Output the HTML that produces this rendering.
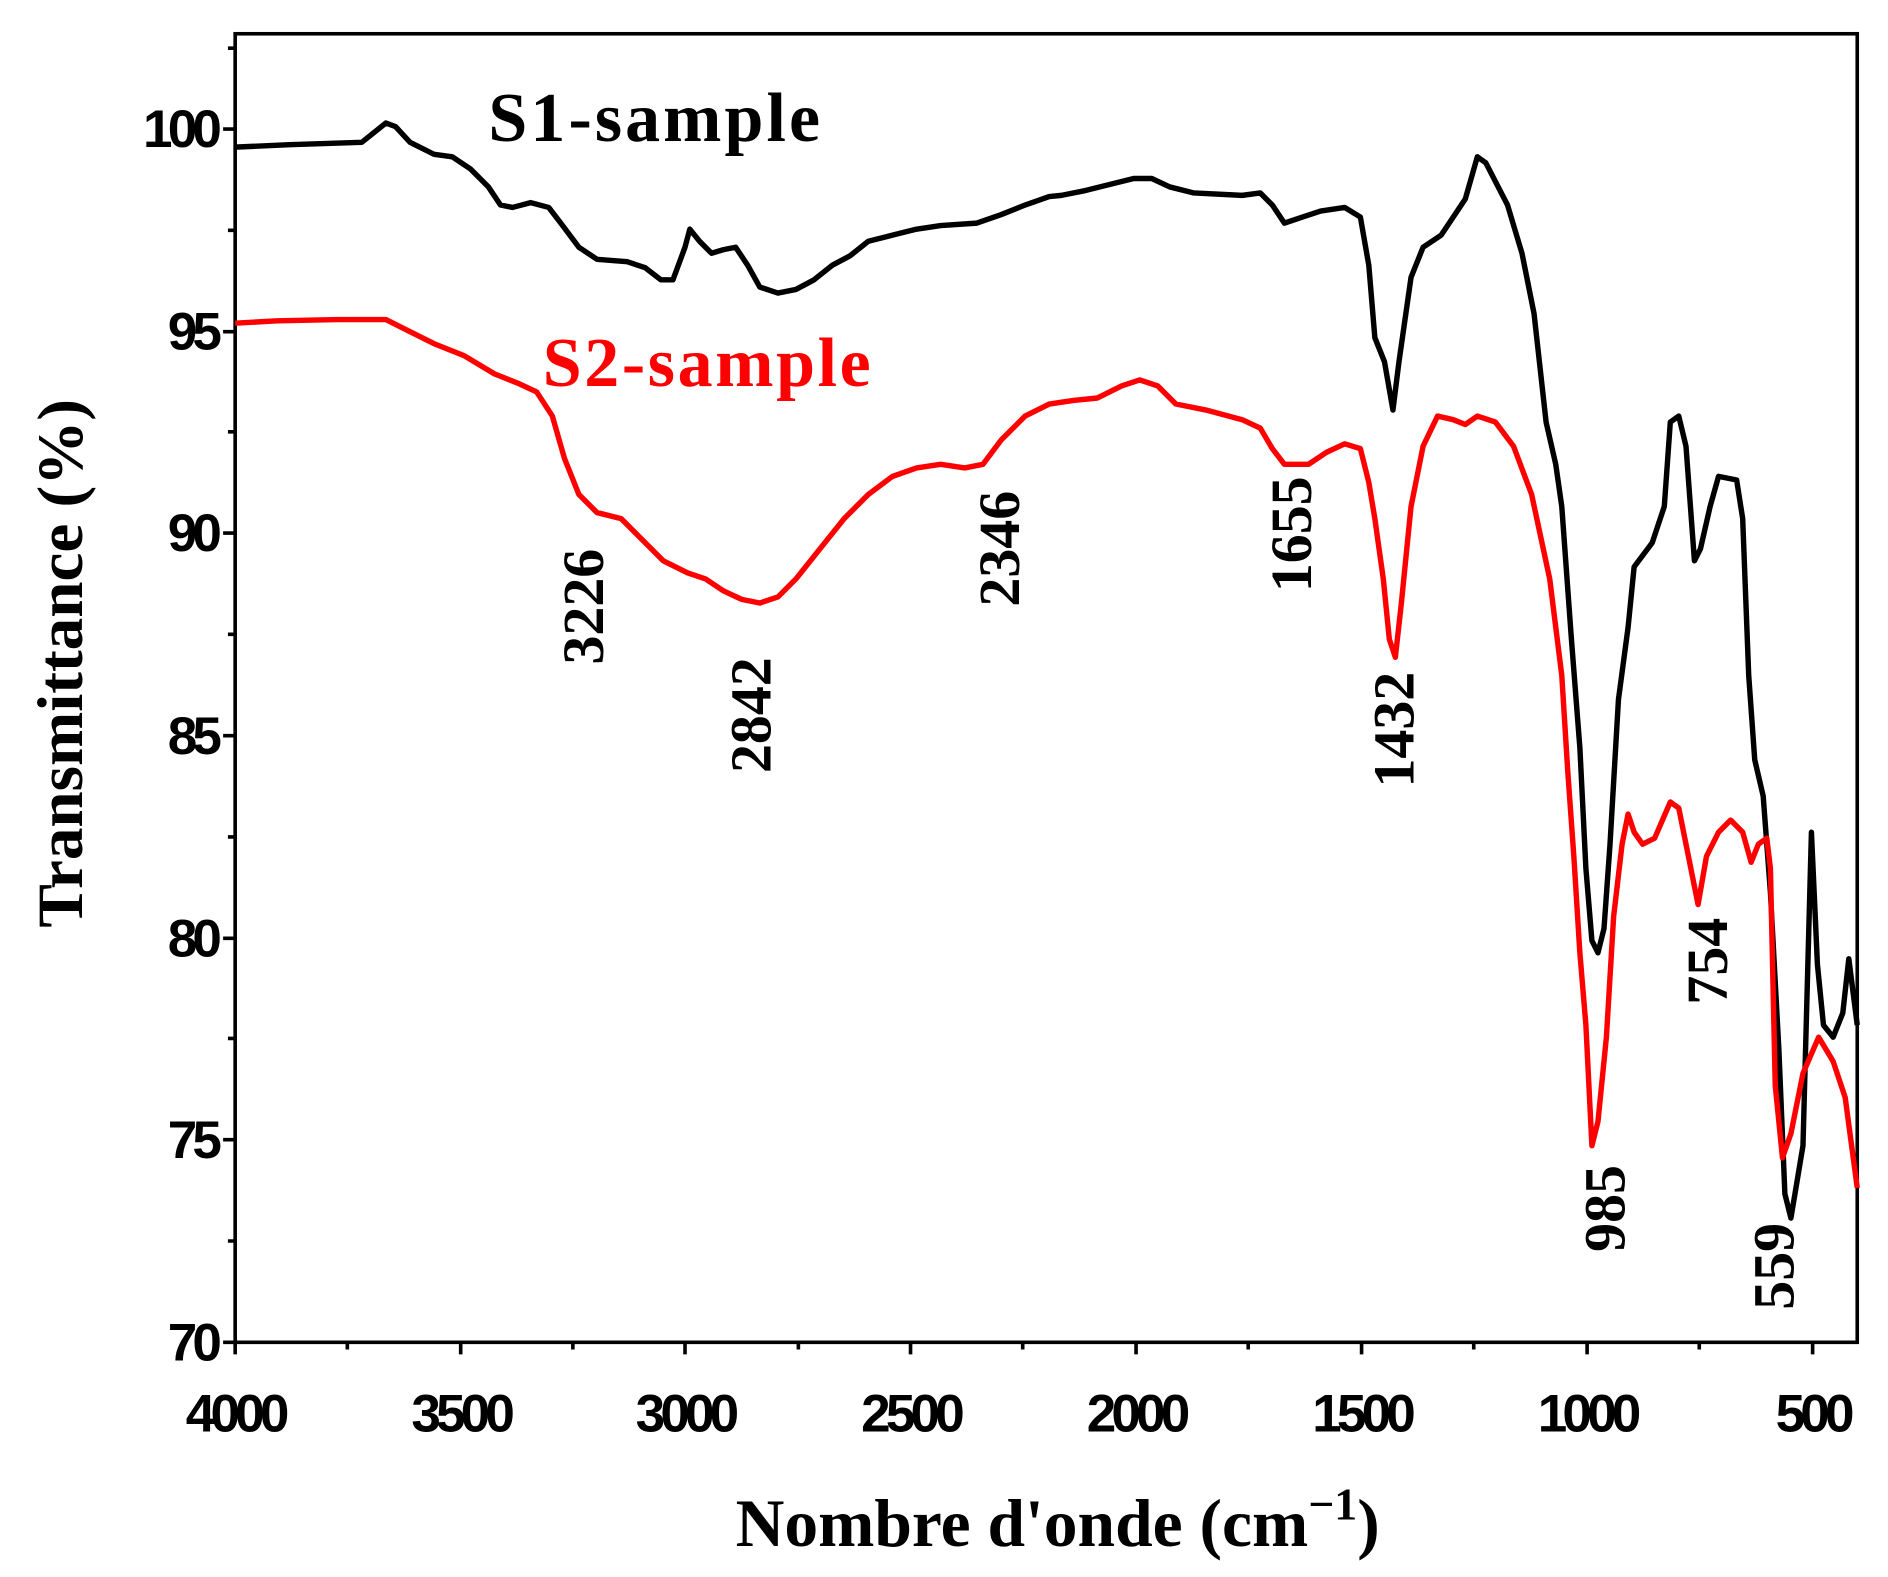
<!DOCTYPE html>
<html><head><meta charset="utf-8"><style>html,body{margin:0;padding:0;background:#fff}svg{display:block}</style></head>
<body>
<svg width="1888" height="1577" viewBox="0 0 1565.5 1307.6" preserveAspectRatio="none" xmlns="http://www.w3.org/2000/svg">
<rect x="0" y="0" width="1565.5" height="1307.6" fill="#fff"/>
<g stroke="#000" stroke-width="3" fill="none">
<rect x="195" y="28" width="1345" height="1085"/>
<path d="M195,1113v10 M288,1113v6 M382,1113v10 M475,1113v6 M568,1113v10 M662,1113v6 M755,1113v10 M848,1113v6 M942,1113v10 M1035,1113v6 M1129,1113v10 M1222,1113v6 M1316,1113v10 M1409,1113v6 M1503,1113v10"/>
<path d="M195,1113h-10 M195,1029h-6 M195,945h-10 M195,861h-6 M195,778h-10 M195,694h-6 M195,610h-10 M195,526h-6 M195,442h-10 M195,358h-6 M195,275h-10 M195,191h-6 M195,107h-10 M195,40h-6"/>
</g>
<g font-family="Liberation Sans, sans-serif" font-weight="bold" font-size="44" text-anchor="middle" letter-spacing="-4">
<text x="195" y="1187">4000</text><text x="382" y="1187">3500</text><text x="568" y="1187">3000</text><text x="755" y="1187">2500</text><text x="942" y="1187">2000</text><text x="1129" y="1187">1500</text><text x="1316" y="1187">1000</text><text x="1503" y="1187">500</text>
</g>
<g font-family="Liberation Sans, sans-serif" font-weight="bold" font-size="44" text-anchor="end" letter-spacing="-4">
<text x="180" y="1128">70</text><text x="180" y="960">75</text><text x="180" y="793">80</text><text x="180" y="625">85</text><text x="180" y="457">90</text><text x="180" y="290">95</text><text x="180" y="122">100</text>
</g>
<text x="877" y="1282" font-family="Liberation Serif, serif" font-weight="bold" font-size="56" text-anchor="middle">Nombre d'onde (cm<tspan dy="-22" font-size="38">−1</tspan><tspan dy="22">)</tspan></text>
<text transform="translate(68,550) rotate(-90)" font-family="Liberation Serif, serif" font-weight="bold" font-size="54" text-anchor="middle">Transmittance (%)</text>
<text x="405" y="117" font-family="Liberation Serif, serif" font-weight="bold" font-size="58" textLength="275">S1-sample</text>
<text x="450" y="320" font-family="Liberation Serif, serif" font-weight="bold" font-size="58" fill="#f00" textLength="272">S2-sample</text>
<g font-family="Liberation Serif, serif" font-weight="bold" font-size="48" text-anchor="middle">
<text transform="translate(500,503) rotate(-90)">3226</text>
<text transform="translate(639,593) rotate(-90)">2842</text>
<text transform="translate(845,455) rotate(-90)">2346</text>
<text transform="translate(1087,443) rotate(-90)">1655</text>
<text transform="translate(1172,605) rotate(-90)">1432</text>
<text transform="translate(1347,1002) rotate(-90)">985</text>
<text transform="translate(1432,797) rotate(-90)">754</text>
<text transform="translate(1487,1050) rotate(-90)">559</text>
</g>
<polyline fill="none" stroke="#000" stroke-width="4.5" stroke-linejoin="round" points="195,122 240,120 300,118 310,110 320,102 328,105 340,118 360,128 375,130 390,140 405,155 415,170 425,172 440,168 455,172 465,185 480,205 495,215 520,217 535,222 548,232 558,232 568,205 572,190 580,200 590,210 600,207 610,205 620,220 630,238 645,243 660,240 675,232 690,220 705,212 720,200 740,195 760,190 780,187 810,185 830,178 850,170 870,163 880,162 900,158 920,153 940,148 955,148 970,155 990,160 1030,162 1045,160 1055,170 1065,185 1080,180 1095,175 1115,172 1128,180 1135,220 1140,280 1148,300 1155,340 1160,300 1170,230 1180,205 1195,195 1215,165 1225,130 1232,135 1250,170 1262,210 1272,260 1282,350 1290,385 1295,420 1303,530 1310,620 1315,720 1320,780 1325,790 1330,770 1335,700 1342,580 1350,520 1355,470 1370,450 1380,420 1385,350 1392,345 1398,370 1405,465 1410,455 1418,420 1425,395 1440,398 1445,430 1450,560 1455,630 1462,660 1468,740 1475,870 1480,990 1485,1010 1490,980 1495,950 1502,690 1507,800 1512,850 1520,860 1528,840 1533,795 1540,850"/>
<polyline fill="none" stroke="#f00" stroke-width="4.5" stroke-linejoin="round" points="195,268 230,266 280,265 320,265 340,275 360,285 385,295 410,310 430,318 445,325 458,345 468,380 480,410 495,425 515,430 530,445 550,465 570,475 585,480 600,490 615,497 630,500 645,495 660,480 680,455 700,430 720,410 740,395 760,388 780,385 800,388 815,385 830,365 850,345 870,335 890,332 910,330 930,320 945,315 960,320 975,335 1000,340 1030,348 1045,355 1055,372 1065,385 1085,385 1100,375 1115,368 1128,372 1135,400 1140,430 1147,480 1152,530 1157,545 1162,500 1170,420 1180,370 1192,345 1205,348 1215,352 1225,345 1240,350 1255,370 1270,410 1285,480 1295,560 1300,640 1305,710 1310,790 1315,850 1320,950 1325,930 1332,860 1338,760 1345,700 1350,675 1355,690 1362,700 1372,695 1385,665 1392,670 1400,710 1408,750 1415,710 1425,690 1435,680 1445,690 1452,715 1458,700 1465,695 1468,720 1472,900 1478,960 1485,940 1495,890 1508,860 1520,880 1530,910 1540,985"/>
</svg>
</body></html>
